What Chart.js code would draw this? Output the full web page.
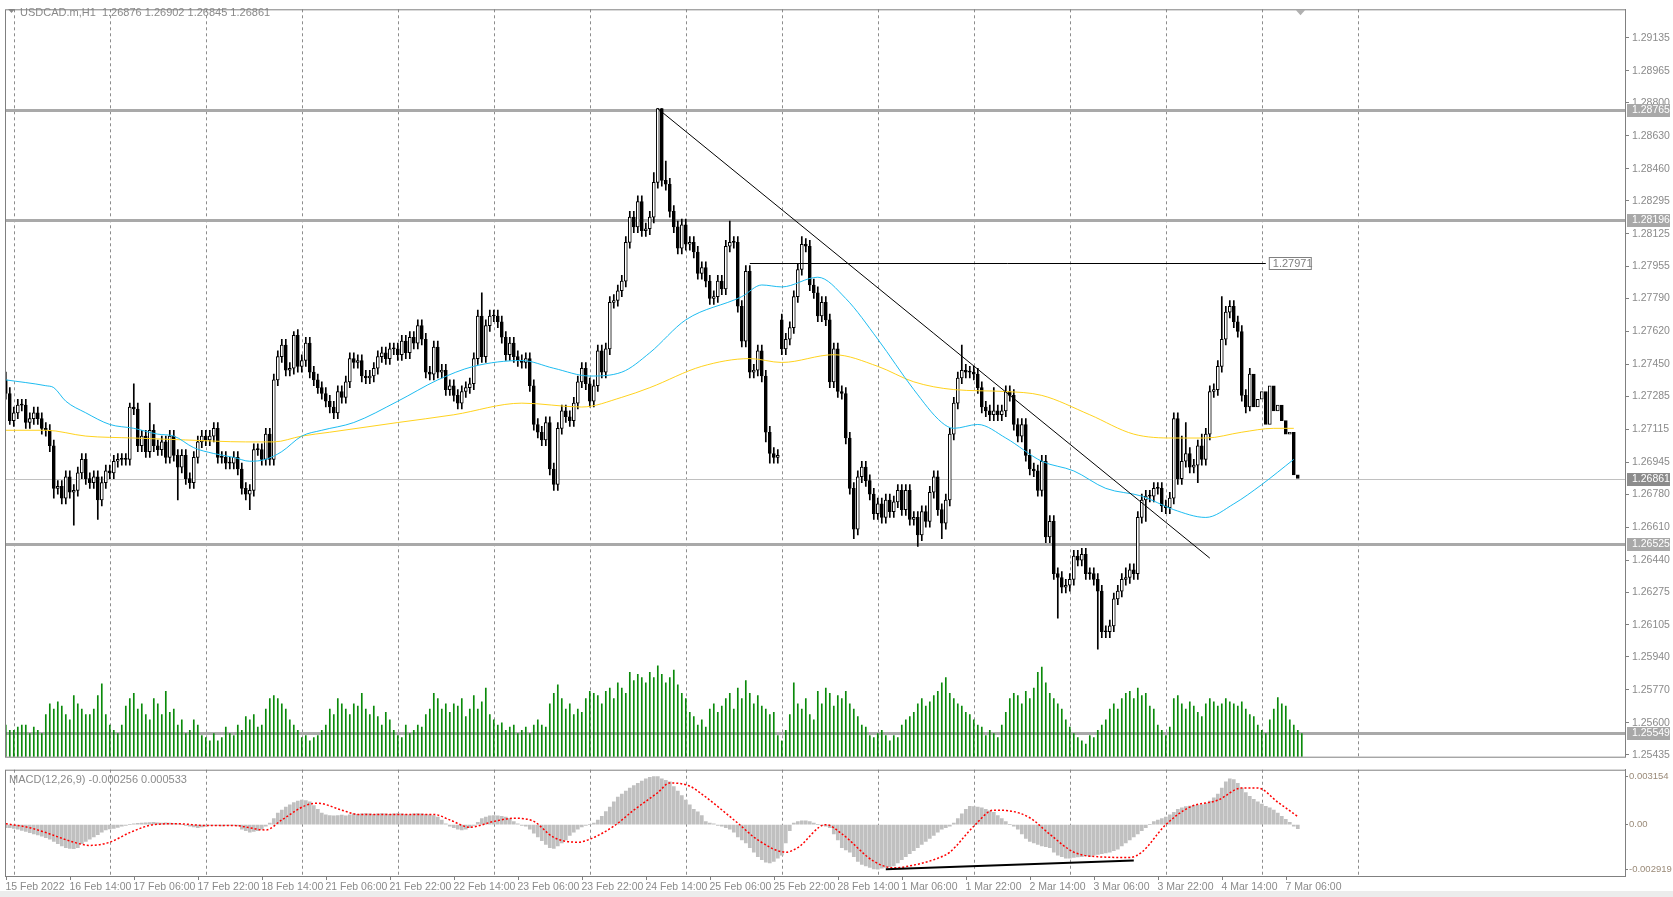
<!DOCTYPE html>
<html>
<head>
<meta charset="utf-8">
<script src="https://cdn.jsdelivr.net/npm/chart.js@4"></script>
<style>
  html, body { margin: 0; padding: 0; background: #fff; width: 1673px; height: 897px; overflow: hidden; }
  canvas { position: absolute; left: 0; }
  #main { top: 0; }
  #macd { top: 763px; }
  #strip { position: absolute; left: 0; top: 891px; width: 1673px; height: 6px; background: #ececec; }
</style>
</head>
<body>
<canvas id="main" width="1673" height="766"></canvas>
<canvas id="macd" width="1673" height="128"></canvas>
<div id="strip"></div>
<script>
// ---- USDCAD.m H1, bar 0 = 15 Feb 2022 22:00 ----
const closes = [
  1.2730,1.2716,1.2720,1.2724,1.2724,1.2715,1.2717,1.2720,1.2717,1.2712,1.2711,1.2703,
  1.2681,1.2682,1.2676,1.2687,1.2679,1.2680,1.2689,1.2696,1.2686,1.2684,1.2687,1.2675,
  1.2684,1.2690,1.2689,1.2695,1.2696,1.2696,1.2696,1.2723,1.2722,1.2703,1.2708,1.2700,
  1.2711,1.2703,1.2701,1.2705,1.2697,1.2708,1.2698,1.2692,1.2698,1.2686,1.2684,1.2697,
  1.2705,1.2708,1.2706,1.2708,1.2712,1.2697,1.2697,1.2694,1.2694,1.2697,1.2691,1.2681,
  1.2678,1.2680,1.2701,1.2701,1.2696,1.2709,1.2696,1.2737,1.2749,1.2755,1.2742,1.2743,
  1.2760,1.2744,1.2747,1.2756,1.2741,1.2737,1.2733,1.2730,1.2726,1.2723,1.2720,1.2731,
  1.2728,1.2736,1.2748,1.2746,1.2747,1.2739,1.2738,1.2739,1.2743,1.2749,1.2751,1.2748,
  1.2753,1.2753,1.2750,1.2757,1.2751,1.2759,1.2756,1.2765,1.2758,1.2741,1.2740,1.2754,
  1.2741,1.2742,1.2732,1.2734,1.2729,1.2725,1.2731,1.2733,1.2735,1.2748,1.2770,1.2749,
  1.2765,1.2770,1.2770,1.2767,1.2759,1.2750,1.2756,1.2749,1.2747,1.2746,1.2748,1.2734,
  1.2714,1.2710,1.2706,1.2715,1.2691,1.2683,1.2712,1.2721,1.2718,1.2716,1.2725,1.2736,
  1.2743,1.2735,1.2726,1.2734,1.2752,1.2741,1.2753,1.2777,1.2778,1.2783,1.2788,1.2808,
  1.2821,1.2816,1.2829,1.2814,1.2815,1.2821,1.2839,1.2877,1.2840,1.2838,1.2824,1.2816,
  1.2805,1.2817,1.2807,1.2808,1.2803,1.2792,1.2795,1.2788,1.2779,1.2780,1.2788,1.2784,
  1.2806,1.2808,1.2808,1.2775,1.2757,1.2793,1.2741,1.2742,1.2752,1.2739,1.2710,1.2699,
  1.2697,1.2698,1.2753,1.2758,1.2764,1.2780,1.2794,1.2807,1.2806,1.2786,1.2782,1.2770,
  1.2777,1.2768,1.2736,1.2753,1.2731,1.2730,1.2707,1.2681,1.2660,1.2687,1.2692,1.2685,
  1.2678,1.2668,1.2673,1.2666,1.2675,1.2669,1.2674,1.2680,1.2670,1.2680,1.2665,1.2666,
  1.2657,1.2669,1.2664,1.2679,1.2687,1.2670,1.2663,1.2675,1.2709,1.2725,1.2738,1.2742,
  1.2741,1.2741,1.2740,1.2733,1.2723,1.2721,1.2719,1.2721,1.2719,1.2721,1.2731,1.2729,
  1.2714,1.2708,1.2714,1.2698,1.2691,1.2690,1.2680,1.2695,1.2656,1.2664,1.2637,1.2635,
  1.2630,1.2631,1.2634,1.2646,1.2644,1.2647,1.2637,1.2637,1.2634,1.2628,1.2607,1.2607,
  1.2610,1.2624,1.2628,1.2634,1.2635,1.2639,1.2637,1.2666,1.2675,1.2677,1.2677,1.2681,
  1.2681,1.2672,1.2671,1.2676,1.2717,1.2686,1.2695,1.2699,1.2692,1.2693,1.2703,1.2696,
  1.2709,1.2731,1.2732,1.2744,1.2758,1.2772,1.2775,1.2767,1.2762,1.2729,1.2723,1.2740,
  1.2723,1.2727,1.2731,1.2714,1.2734,1.2721,1.2724,1.2716,1.2709,1.2710,1.2688,1.26861
];
// opens follow the previous close, except these bars (first bar, Monday gap)
const gapOpens = { 0: 1.2737, 194: 1.2768 };
// wick lengths in pips above / below the candle body
const wickUp = [
  4,3,3,3,3,3,3,3,3,3,3,3, 3,3,3,3,3,3,3,3,3,3,3,3,
  3,3,3,3,3,3,3,2,12,3,3,3, 14,3,3,3,3,3,3,3,3,3,3,3,
  3,3,3,3,3,3,3,3,3,3,3,3, 3,3,3,3,3,3,3,3,3,3,3,3,
  2,3,3,3,3,3,3,3,3,3,3,3, 3,3,3,3,3,3,3,3,3,3,3,3,
  3,3,3,3,3,3,3,3,3,3,3,3, 3,3,3,3,3,3,3,3,3,3,3,12,
  3,3,3,3,3,3,3,3,3,3,3,3, 3,3,3,3,3,3,3,3,3,3,3,3,
  3,3,3,3,3,3,3,3,3,3,3,3, 3,3,3,3,3,3,5,0,0,10,3,3,
  3,3,3,3,3,3,3,3,3,3,3,3, 3,11,3,3,3,3,3,3,3,3,3,3,
  3,3,3,3,3,3,3,4,3,3,3,3, 3,3,3,3,3,3,3,3,3,3,3,3,
  3,3,3,3,3,3,3,3,3,3,3,3, 3,3,3,3,3,3,3,3,3,3,3,13,
  3,3,3,3,3,3,3,12,3,3,3,3, 3,3,3,3,3,3,3,3,3,3,3,3,
  3,3,3,3,3,3,3,3,3,3,3,3, 3,3,3,3,5,3,3,3,3,3,3,3,
  3,3,3,3,3,3,13,16,3,3,3,6, 3,3,3,3,22,3,3,3,3,3,3,3
];
const wickDown = [
  3,2,3,3,3,3,3,3,3,3,3,3, 5,3,3,3,3,17,3,3,3,3,3,10,
  3,3,3,3,3,3,3,3,3,3,3,3, 3,3,3,3,3,3,3,17,3,3,3,3,
  3,3,3,3,3,3,3,3,3,3,3,3, 3,8,3,3,3,3,3,3,3,3,3,3,
  3,3,3,3,3,3,3,3,3,3,3,3, 3,3,3,3,3,3,3,3,3,3,3,3,
  3,3,3,3,3,3,3,3,3,3,3,3, 3,3,3,3,3,3,3,3,3,3,3,3,
  3,3,3,3,3,3,3,3,3,3,3,3, 3,3,3,3,3,3,3,3,3,3,3,3,
  3,3,3,3,3,3,3,3,3,3,3,3, 3,3,3,3,3,3,3,3,3,3,3,3,
  3,3,3,3,3,3,3,3,3,3,3,3, 3,3,3,3,3,3,3,3,3,3,5,5,
  3,3,3,3,3,3,3,3,3,3,3,3, 3,3,3,3,3,3,3,3,5,3,3,3,
  3,3,3,3,3,3,3,3,3,3,3,3, 6,3,3,3,3,3,8,3,3,3,3,3,
  3,3,3,3,3,3,3,3,3,3,3,3, 3,3,3,3,3,3,3,3,3,3,3,21,
  3,3,3,3,3,3,3,3,3,30,3,3, 3,3,3,3,3,3,3,3,3,11,3,3,
  3,3,3,3,3,3,3,3,3,3,9,3, 3,3,3,3,3,3,3,3,3,3,3,2
];
// tick volume
const volumes = [
  30,25,25,28,30,30,22,28,25,22,40,50, 45,52,48,40,35,58,50,45,40,40,45,58,
  69,40,30,25,22,30,48,55,60,45,50,40, 35,55,50,40,62,42,45,30,35,22,25,35,
  30,20,18,15,22,15,18,28,22,20,30,25, 38,35,40,28,30,45,55,58,55,50,45,35,
  30,25,18,20,15,18,20,25,30,45,40,55, 50,45,40,50,48,60,45,40,48,38,30,42,
  35,25,20,18,30,22,25,30,28,40,45,60, 55,45,50,42,50,48,55,38,45,58,45,52,
  65,40,35,30,32,25,28,30,22,25,28,22, 30,35,30,28,50,60,68,55,45,50,40,45,
  42,55,62,60,58,50,62,65,55,70,65,60, 80,72,78,75,70,80,75,86,78,70,75,82,
  68,60,55,42,38,30,35,28,45,50,42,48, 55,60,45,65,55,72,60,50,58,48,45,40,
  42,20,15,25,40,70,50,45,55,40,35,62, 50,65,60,48,58,55,62,50,45,38,30,28,
  20,18,22,25,20,15,20,18,30,35,38,42, 50,55,48,52,58,62,70,75,60,55,50,48,
  42,40,35,30,28,20,25,22,18,30,42,55, 60,58,50,62,55,65,80,85,70,60,55,50,
  45,35,28,22,18,15,12,20,18,25,30,35, 45,50,45,55,60,62,55,65,58,60,48,45,
  30,25,20,28,55,58,50,45,52,48,42,38, 50,55,52,48,50,55,52,50,48,52,45,40,
  38,30,25,22,35,45,56,50,48,35,30,25,22
];
// MACD(12,26,9) histogram, in units of 0.00001
const macdHist = [
  -20,-20,-25,
  -30,-38,-45,-52,-60,-68,-75,-85,
  -95,-110,-125,-140,-150,-155,-157,-150,
  -125,-110,-95,-80,-65,-50,-35,-28,
  -25,-18,-10,-5,0,
  5,8,10,12,14,15,12,10,12,10,8,5,
  0,-5,-10,-15,-20,-15,-10,
  -5,-5,-5,-8,-5,-5,-5,-8,
  -30,-40,-50,-45,-40,-30,-10,
  10,40,
  75,95,115,130,145,155,160,158,
  150,125,100,75,
  65,60,58,60,62,58,
  65,70,68,70,72,70,68,70,72,70,68,70,72,70,68,65,70,72,70,68,65,60,50,
  30,5,
  -10,-20,-30,-35,-30,-20,-5,15,
  40,50,58,60,58,55,50,40,
  20,5,-5,-10,
  -30,-55,-80,-105,-130,-150,-155,-140,-120,-100,
  -70,-50,-30,-15,-5,0,
  10,30,55,85,115,150,180,200,220,
  240,255,270,285,300,310,315,315,
  300,290,280,250,220,190,160,130,100,84,
  60,20,10,5,-5,-10,
  -20,-30,-50,-80,-100,-120,
  -150,-180,-210,-230,-245,-250,-240,-220,
  -200,-120,-40,10,20,25,
  25,20,10,0,-5,-10,
  -20,-60,-100,-150,-165,
  -180,-210,-240,-260,-270,-280,-290,-292,-285,-280,-275,
  -270,-250,-230,-210,-190,-170,-150,-130,-110,-90,-70,-50,-30,-20,-10,
  10,40,70,100,120,118,115,110,100,90,
  80,60,40,20,0,-10,-30,-60,-90,-110,
  -120,-130,-140,-145,
  -150,-180,-200,-210,-220,-220,-215,-212,-210,-205,
  -210,-200,-195,-190,-185,-180,-170,-160,-140,-120,-100,-80,-60,-40,-20,
  0,20,30,40,50,65,
  80,100,110,118,122,125,128,132,140,155,175,
  200,240,280,300,295,270,240,
  210,185,165,150,135,120,110,95,75,55,35,15,
  -10,-26
];
// MACD signal line, read at these bars (units of 0.00001)
const signalBars = [0,6,10,17,21,26,31,37,43,50,57,65,69,75,78,84,88,99,107,111,116,122,127,132,137,143,146,152,157,163,166,171,174,183,188,195,198,205,209,217,222,225,233,236,242,247,251,256,261,267,273,281,284,290,296,303,309,313,318,323];
const signalVals = [6,-20,-52,-115,-136,-115,-52,0,6,-6,-6,-35,31,126,140,95,67,67,67,31,-17,21,42,21,-84,-115,-95,-10,95,210,273,252,200,10,-100,-180,-150,0,-60,-240,-283,-275,-220,-180,-10,95,90,45,-63,-180,-210,-215,-180,0,115,160,240,240,147,53];

// moving averages read at these bars
const maBlueBars = [0,10,12,15,20,26,32,38,42,47,52,57,61,65,69,74,79,87,98,108,117,129,137,146,154,161,170,184,189,194,203,210,218,227,234,237,243,250,259,267,275,284,292,300,307,314,322];
const maBlueVals = [1.2737,1.2734,1.2733,1.2726,1.2720,1.2714,1.2712,1.2709,1.2708,1.2702,1.2699,1.2697,1.2695,1.2696,1.2700,1.2708,1.2711,1.2715,1.2726,1.2737,1.2744,1.2747,1.2743,1.2739,1.2741,1.2751,1.2768,1.2780,1.2786,1.2785,1.2790,1.2779,1.2758,1.2732,1.2715,1.2712,1.2714,1.2707,1.2695,1.2690,1.2681,1.2677,1.2670,1.2666,1.2673,1.2683,1.2696];
const maGoldBars = [0,10,20,32,45,60,67,74,81,98,112,129,144,154,161,174,186,194,207,218,227,237,250,259,271,282,292,300,309,317,322];
const maGoldVals = [1.2711,1.2711,1.2708,1.2707,1.2706,1.2705,1.2705,1.2708,1.2710,1.2715,1.2719,1.2725,1.2723,1.2728,1.2733,1.2744,1.2748,1.2746,1.2750,1.2744,1.2736,1.2732,1.2731,1.2729,1.2719,1.2709,1.2707,1.2707,1.2710,1.2712,1.2712];

// drawn objects
const trendBars = [163, 301];
const trendVals = [1.2877, 1.2645];
const resBars = [186, 315];
const resLevel = 1.27971;
const levels = [1.28765, 1.28196, 1.26525, 1.25549];
const lastPrice = 1.26861;
const divBars = [220, 282];
const divVals = [-292, -235];

const priceTicks = [1.29135,1.28965,1.28800,1.28630,1.28460,1.28295,1.28125,1.27955,1.27790,1.27620,1.27450,1.27285,1.27115,1.26945,1.26780,1.26610,1.26440,1.26275,1.26105,1.25940,1.25770,1.25600,1.25435];
const macdTicks = [0.003154, 0, -0.002919];
const gridBars = [2,26,50,74,98,122,146,170,194,218,242,266,290,314,338];
const dateBars = [0,16,32,48,64,80,96,112,128,144,160,176,192,208,224,240,256,272,288,304,320];
const dateLabels = ['15 Feb 2022','16 Feb 14:00','17 Feb 06:00','17 Feb 22:00','18 Feb 14:00','21 Feb 06:00','21 Feb 22:00','22 Feb 14:00','23 Feb 06:00','23 Feb 22:00','24 Feb 14:00','25 Feb 06:00','25 Feb 22:00','28 Feb 14:00','1 Mar 06:00','1 Mar 22:00','2 Mar 14:00','3 Mar 06:00','3 Mar 22:00','4 Mar 14:00','7 Mar 06:00'];

const FONT = 'Liberation Sans';
Chart.defaults.font.family = FONT;
Chart.defaults.font.size = 10;
Chart.defaults.animation = false;

const X_MIN = -0.2, X_MAX = 404.8;
const AXIS_W = 48;
const TXT = '#8a8a8a';

const opens = closes.map((c, i) => (i in gapOpens) ? gapOpens[i] : closes[i - 1]);
const highs = closes.map((c, i) => Math.max(opens[i], c) + wickUp[i] / 10000);
const lows = closes.map((c, i) => Math.min(opens[i], c) - wickDown[i] / 10000);

function xScale() {
  return { type: 'linear', min: X_MIN, max: X_MAX, offset: false, display: false };
}

function drawGrid(chart) {
  const { ctx, chartArea: a, scales: { x } } = chart;
  ctx.save();
  ctx.strokeStyle = '#8c8c8c';
  ctx.lineWidth = 1;
  ctx.setLineDash([3, 3]);
  gridBars.forEach(b => {
    const px = Math.round(x.getPixelForValue(b)) + 0.5;
    ctx.beginPath(); ctx.moveTo(px, a.top); ctx.lineTo(px, a.bottom); ctx.stroke();
  });
  ctx.restore();
}

function drawFrame(chart) {
  const { ctx, chartArea: a } = chart;
  ctx.save();
  ctx.strokeStyle = '#808080';
  ctx.lineWidth = 1;
  ctx.strokeRect(a.left + 0.5, a.top + 0.5, a.right - a.left, a.bottom - a.top);
  ctx.restore();
}

function tagBox(ctx, y, text, fill) {
  ctx.fillStyle = fill;
  ctx.fillRect(1627, Math.round(y) - 6, 43, 13);
  ctx.fillStyle = '#fff';
  ctx.textBaseline = 'middle';
  ctx.textAlign = 'left';
  ctx.fillText(text, 1632, Math.round(y) + 0.5);
}

const mainBack = {
  id: 'mainBack',
  beforeDatasetsDraw(chart) {
    const { ctx, chartArea: a, scales: { y } } = chart;
    drawGrid(chart);
    ctx.save();
    ctx.strokeStyle = '#c0c0c0';
    ctx.lineWidth = 1;
    const py = Math.round(y.getPixelForValue(lastPrice)) + 0.5;
    ctx.beginPath(); ctx.moveTo(a.left, py); ctx.lineTo(a.right, py); ctx.stroke();
    ctx.strokeStyle = '#a9a9a9';
    ctx.lineWidth = 3;
    levels.forEach(l => {
      const ly = Math.round(y.getPixelForValue(l)) + 0.5;
      ctx.beginPath(); ctx.moveTo(a.left, ly); ctx.lineTo(a.right, ly); ctx.stroke();
    });
    ctx.restore();
  },
  afterDraw(chart) {
    const { ctx, chartArea: a, scales: { x, y } } = chart;
    ctx.save();
    // trend line
    ctx.strokeStyle = '#000';
    ctx.lineWidth = 1;
    ctx.beginPath();
    ctx.moveTo(x.getPixelForValue(trendBars[0]), y.getPixelForValue(trendVals[0]));
    ctx.lineTo(x.getPixelForValue(trendBars[1]), y.getPixelForValue(trendVals[1]));
    ctx.stroke();
    // resistance line + its price box
    const ry = Math.round(y.getPixelForValue(resLevel)) + 0.5;
    const rx1 = x.getPixelForValue(resBars[1]);
    ctx.beginPath(); ctx.moveTo(x.getPixelForValue(resBars[0]), ry); ctx.lineTo(rx1, ry); ctx.stroke();
    ctx.font = '11px "' + FONT + '"';
    ctx.fillStyle = '#fff';
    ctx.fillRect(rx1 + 3, ry - 6.5, 43, 13);
    ctx.strokeStyle = '#808080';
    ctx.strokeRect(rx1 + 3.5, ry - 6, 42, 12);
    ctx.fillStyle = '#808080';
    ctx.textBaseline = 'middle';
    ctx.fillText(resLevel.toFixed(5), rx1 + 7, ry + 0.5);
    // header
    ctx.fillStyle = TXT;
    ctx.font = '11px "' + FONT + '"';
    ctx.textBaseline = 'alphabetic';
    ctx.fillText('USDCAD.m,H1  1.26876 1.26902 1.26845 1.26861', 20, 16);
    ctx.beginPath(); ctx.moveTo(8, 9); ctx.lineTo(15, 9); ctx.lineTo(11.5, 13); ctx.closePath(); ctx.fill();
    // shift marker
    ctx.fillStyle = '#b0b0b0';
    ctx.beginPath(); ctx.moveTo(1296, a.top + 1); ctx.lineTo(1305, a.top + 1); ctx.lineTo(1300.5, a.top + 6); ctx.closePath(); ctx.fill();
    // price tags on the axis
    ctx.font = '10.5px "' + FONT + '"';
    levels.forEach(l => tagBox(ctx, y.getPixelForValue(l), l.toFixed(5), '#a8a8a8'));
    tagBox(ctx, y.getPixelForValue(lastPrice), lastPrice.toFixed(5), '#8c8c8c');
    ctx.restore();
    drawFrame(chart);
  }
};

new Chart(document.getElementById('main'), {
  type: 'bar',
  data: {
    datasets: [
      { type: 'line', data: maBlueBars.map((b, i) => ({ x: b, y: maBlueVals[i] })), borderColor: '#1ebcf0', borderWidth: 1, pointRadius: 0, cubicInterpolationMode: 'monotone', order: 1 },
      { type: 'line', data: maGoldBars.map((b, i) => ({ x: b, y: maGoldVals[i] })), borderColor: '#ffd21e', borderWidth: 1, pointRadius: 0, cubicInterpolationMode: 'monotone', order: 1 },
      { data: closes.map((c, i) => ({ x: i, y: [opens[i], c] })), grouped: false, barThickness: 3, minBarLength: 1,
        backgroundColor: closes.map((c, i) => c > opens[i] ? '#fff' : '#000'), borderColor: '#000', borderWidth: 1, borderSkipped: false, order: 2 },
      { data: closes.map((c, i) => ({ x: i, y: [lows[i], highs[i]] })), grouped: false, barThickness: 1, backgroundColor: '#000', order: 3 },
      { data: volumes.map((v, i) => ({ x: i, y: v })), yAxisID: 'yv', grouped: false, barThickness: 1, backgroundColor: '#0a8a0a', order: 10 }
    ]
  },
  options: {
    responsive: false,
    devicePixelRatio: 1,
    layout: { padding: { left: 5, top: 5, bottom: 3, right: 0 } },
    plugins: { legend: { display: false }, tooltip: { enabled: false } },
    scales: {
      x: xScale(),
      y: {
        position: 'right', min: 1.25425, max: 1.29283,
        afterBuildTicks: s => { s.ticks = priceTicks.map(v => ({ value: v })); },
        afterFit: s => { s.width = AXIS_W; },
        ticks: { color: TXT, padding: 3, font: { size: 10.5 }, callback: v => Number(v).toFixed(5), autoSkip: false },
        grid: { drawOnChartArea: false, drawTicks: true, tickLength: 4, color: '#808080' },
        border: { color: '#808080' }
      },
      yv: { display: false, min: 0, max: 708 }
    }
  },
  plugins: [mainBack]
});

const macdDeco = {
  id: 'macdDeco',
  beforeDatasetsDraw(chart) { drawGrid(chart); },
  afterDraw(chart) {
    const { ctx, chartArea: a, scales: { x, y } } = chart;
    ctx.save();
    ctx.strokeStyle = '#000';
    ctx.lineWidth = 2;
    ctx.beginPath();
    ctx.moveTo(x.getPixelForValue(divBars[0]), y.getPixelForValue(divVals[0] / 1e5));
    ctx.lineTo(x.getPixelForValue(divBars[1]), y.getPixelForValue(divVals[1] / 1e5));
    ctx.stroke();
    ctx.fillStyle = TXT;
    ctx.font = '11px "' + FONT + '"';
    ctx.fillText('MACD(12,26,9) -0.000256 0.000533', 9, a.top + 13);
    ctx.font = '10.5px "' + FONT + '"';
    ctx.textBaseline = 'top';
    ctx.strokeStyle = '#808080';
    ctx.lineWidth = 1;
    dateBars.forEach((b, i) => {
      const px = Math.round(x.getPixelForValue(b)) + 0.5;
      ctx.beginPath(); ctx.moveTo(px, a.bottom); ctx.lineTo(px, a.bottom + 4); ctx.stroke();
      ctx.fillText(dateLabels[i], px - 1, a.bottom + 6);
    });
    ctx.restore();
    drawFrame(chart);
  }
};

new Chart(document.getElementById('macd'), {
  type: 'bar',
  data: {
    datasets: [
      { type: 'line', data: signalBars.map((b, i) => ({ x: b, y: signalVals[i] / 1e5 })), borderColor: '#ff0000', borderWidth: 1.5, borderDash: [2, 2], pointRadius: 0, cubicInterpolationMode: 'monotone', order: 1 },
      { data: macdHist.map((v, i) => ({ x: i, y: v / 1e5 })), grouped: false, barThickness: 3, backgroundColor: '#c0c0c0', order: 2 }
    ]
  },
  options: {
    responsive: false,
    devicePixelRatio: 1,
    layout: { padding: { left: 5, top: 3, bottom: 15, right: 0 } },
    plugins: { legend: { display: false }, tooltip: { enabled: false } },
    scales: {
      x: xScale(),
      y: {
        position: 'right', min: -0.003362, max: 0.003597,
        afterBuildTicks: s => { s.ticks = macdTicks.map(v => ({ value: v })); },
        afterFit: s => { s.width = AXIS_W; },
        ticks: { color: '#9a8a78', padding: 1, font: { size: 9.5 }, autoSkip: false, callback: v => v === 0 ? '0.00' : Number(v).toFixed(6) },
        grid: { drawOnChartArea: false, drawTicks: true, tickLength: 3, color: '#808080' },
        border: { color: '#808080' }
      }
    }
  },
  plugins: [macdDeco]
});
</script>
</body>
</html>
